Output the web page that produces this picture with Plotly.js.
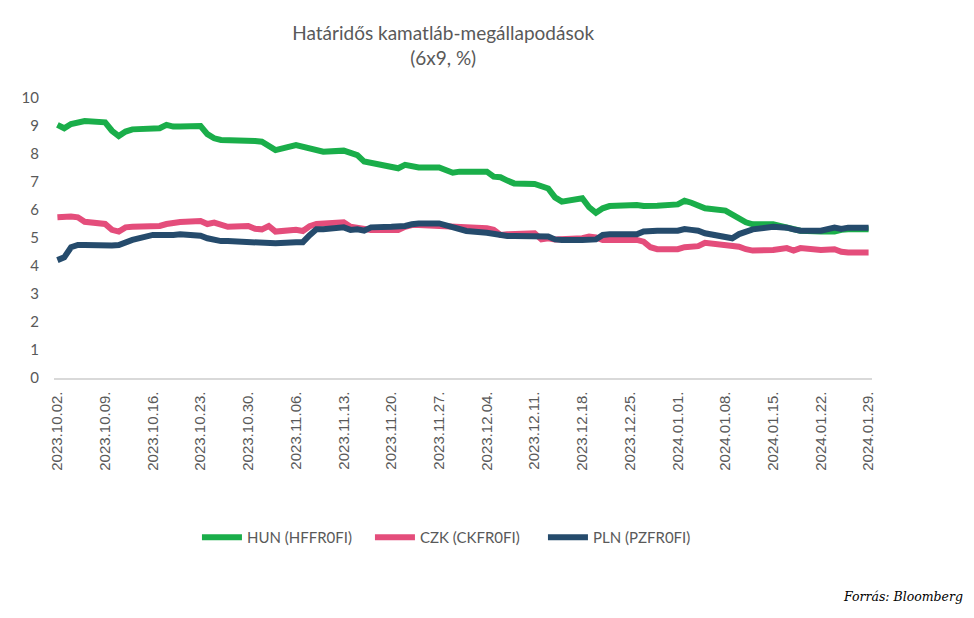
<!DOCTYPE html>
<html>
<head>
<meta charset="utf-8">
<script src="https://cdn.plot.ly/plotly-3.0.1.min.js"></script>
<style>html,body{margin:0;padding:0;background:#fff;}#chart{width:974px;height:618px;}</style>
</head>
<body>
<div id="chart"></div>
<script>
const dates = [
 "2023-10-02","2023-10-03","2023-10-04","2023-10-05","2023-10-06",
 "2023-10-09","2023-10-10","2023-10-11","2023-10-12","2023-10-13",
 "2023-10-16","2023-10-17","2023-10-18","2023-10-19","2023-10-20",
 "2023-10-23","2023-10-24","2023-10-25","2023-10-26","2023-10-27",
 "2023-10-30","2023-10-31",
 "2023-11-01","2023-11-02","2023-11-03",
 "2023-11-06","2023-11-07","2023-11-08","2023-11-09","2023-11-10",
 "2023-11-13","2023-11-14","2023-11-15","2023-11-16","2023-11-17",
 "2023-11-20","2023-11-21","2023-11-22","2023-11-23","2023-11-24",
 "2023-11-27","2023-11-28","2023-11-29","2023-11-30",
 "2023-12-01",
 "2023-12-04","2023-12-05","2023-12-06","2023-12-07","2023-12-08",
 "2023-12-11","2023-12-12","2023-12-13","2023-12-14","2023-12-15",
 "2023-12-18","2023-12-19","2023-12-20","2023-12-21","2023-12-22",
 "2023-12-25","2023-12-26","2023-12-27","2023-12-28","2023-12-29",
 "2024-01-01","2024-01-02","2024-01-03","2024-01-04","2024-01-05",
 "2024-01-08","2024-01-09","2024-01-10","2024-01-11","2024-01-12",
 "2024-01-15","2024-01-16","2024-01-17","2024-01-18","2024-01-19",
 "2024-01-22","2024-01-23","2024-01-24","2024-01-25","2024-01-26",
 "2024-01-29"
];

const hun = [
 9.04, 8.92, 9.07, 9.13, 9.18, 9.13, 8.83, 8.64, 8.80, 8.88,
 8.92, 8.92, 9.04, 8.98, 8.98, 9.00, 8.71, 8.56, 8.50, 8.50,
 8.46, 8.46,
 8.44, 8.26, 8.14, 8.32, 8.26, 8.20, 8.18, 8.08, 8.12, 8.02,
 7.96, 7.73, 7.69, 7.55, 7.49, 7.61, 7.57, 7.52, 7.52, 7.43,
 7.33, 7.37,
 7.36, 7.37, 7.19, 7.17, 7.05, 6.95, 6.93, 6.86, 6.77, 6.45,
 6.30, 6.42, 6.10, 5.90, 6.06, 6.14, 6.18, 6.18, 6.14, 6.14, 6.15,
 6.20, 6.33, 6.26, 6.18, 6.06, 5.98, 5.82, 5.70, 5.56, 5.49,
 5.49, 5.43, 5.38, 5.31, 5.26, 5.23, 5.23, 5.23, 5.29, 5.31, 5.31
];

const czk = [
 5.74, 5.76, 5.77, 5.74, 5.58, 5.50, 5.29, 5.23, 5.38, 5.40,
 5.40, 5.43, 5.50, 5.55, 5.57, 5.61, 5.50, 5.55, 5.46, 5.40,
 5.43, 5.33,
 5.31, 5.43, 5.23, 5.29, 5.25, 5.42, 5.50, 5.52, 5.56, 5.40,
 5.38, 5.31, 5.29, 5.29, 5.29, 5.40, 5.46, 5.46, 5.43, 5.40,
 5.40, 5.40,
 5.37, 5.35, 5.29, 5.11, 5.13, 5.14, 5.17, 4.95, 4.99, 4.95,
 4.95, 4.99, 5.05, 5.02, 4.93, 4.93, 4.93, 4.93, 4.87, 4.67, 4.60,
 4.60, 4.67, 4.69, 4.71, 4.83, 4.75, 4.71, 4.69, 4.60, 4.55,
 4.57, 4.60, 4.64, 4.55, 4.64, 4.57, 4.60, 4.60, 4.51, 4.48, 4.48
];

const pln = [
 4.21, 4.31, 4.67, 4.75, 4.75, 4.71, 4.73, 4.75, 4.83, 4.93,
 5.11, 5.10, 5.08, 5.11, 5.13, 5.08, 4.99, 4.93, 4.89, 4.89,
 4.87, 4.87,
 4.83, 4.81, 4.81, 4.85, 4.85, 5.10, 5.31, 5.31, 5.38, 5.29,
 5.31, 5.26, 5.38, 5.40, 5.40, 5.43, 5.49, 5.52, 5.52, 5.46,
 5.40, 5.35,
 5.25, 5.19, 5.14, 5.07, 5.07, 5.07, 5.07, 5.07, 5.05, 4.95,
 4.93, 4.93, 4.93, 4.95, 5.11, 5.13, 5.13, 5.13, 5.23, 5.25, 5.26,
 5.26, 5.32, 5.29, 5.26, 5.17, 5.07, 4.99, 5.14, 5.23, 5.31,
 5.40, 5.40, 5.37, 5.31, 5.26, 5.26, 5.29, 5.37, 5.32, 5.37, 5.37
];

const seriesNames = ["HUN (HFFR0FI)", "CZK (CKFR0FI)", "PLN (PZFR0FI)"];
const seriesColors = ["#1aae4a", "#e44d7b", "#254b6c"];
const seriesValues = [hun, czk, pln];

const traces = seriesValues.map((vals, i) => ({
  type: "scatter",
  mode: "lines",
  x: dates,
  y: vals,
  name: seriesNames[i],
  line: {color: seriesColors[i], width: 6, shape: "linear"},
  hoverinfo: "x+y+name"
}));

const layout = {
  width: 974,
  height: 618,
  paper_bgcolor: "#ffffff",
  plot_bgcolor: "#ffffff",
  margin: {l: 54, r: 102, t: 98, b: 240, pad: 0},
  font: {family: "Lato, 'Open Sans', sans-serif", color: "#595959"},
  title: {
    text: "Határidős kamatláb-megállapodások<br>(6x9, %)",
    font: {family: "Lato, 'Open Sans', sans-serif", size: 19, color: "#595959"},
    x: 0.455, xanchor: "center", xref: "container",
    y: 0.935, yanchor: "top", yref: "container"
  },
  xaxis: {
    type: "date",
    range: ["2023-10-01 12:00", "2024-01-29 12:00"],
    tick0: "2023-10-02",
    dtick: 7 * 86400000,
    tickformat: "%Y.%m.%d.",
    tickangle: -90,
    tickfont: {family: "'Liberation Sans', Arial, sans-serif", size: 15, color: "#595959"},
    showgrid: false,
    zeroline: false,
    showline: true,
    linecolor: "#d9d9d9",
    linewidth: 1.5,
    ticks: "",
    ticklabelstandoff: 6,
    fixedrange: true
  },
  yaxis: {
    range: [0, 10],
    dtick: 1,
    showgrid: false,
    zeroline: false,
    showline: false,
    ticks: "",
    tickfont: {family: "Lato, 'Open Sans', sans-serif", size: 15, color: "#595959"},
    ticklabelstandoff: 14,
    fixedrange: true
  },
  showlegend: true,
  legend: {
    orientation: "h",
    x: 0.492, xanchor: "center",
    y: -0.57, yanchor: "middle",
    font: {family: "Lato, 'Open Sans', sans-serif", size: 15, color: "#595959"},
    itemwidth: 40,
    entrywidth: 118,
    tracegroupgap: 0
  },
  annotations: [{
    text: "<i>Forrás: Bloomberg</i>",
    xref: "paper", yref: "paper",
    x: 1.114, xanchor: "right",
    y: -0.782, yanchor: "middle",
    showarrow: false,
    font: {family: "'DejaVu Serif', 'Liberation Serif', serif", size: 12.5, color: "#000000"}
  }]
};

Plotly.newPlot("chart", traces, layout, {displayModeBar: false, staticPlot: true});
</script>
</body>
</html>
